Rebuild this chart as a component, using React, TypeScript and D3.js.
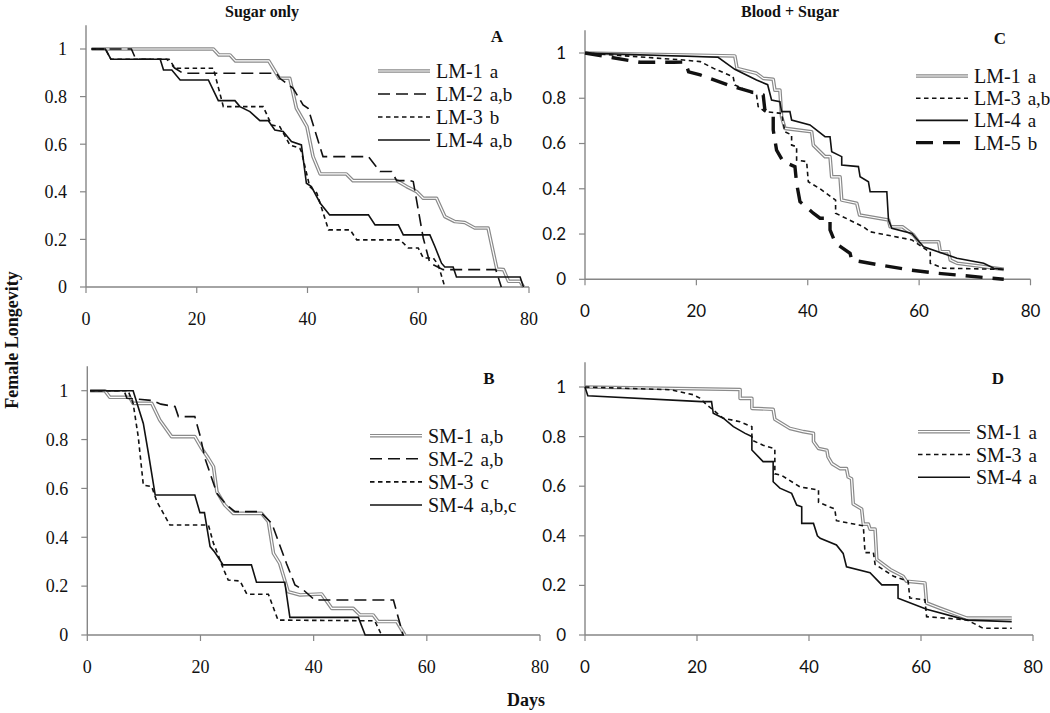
import React from 'react';
import * as d3 from 'd3';

type Pt = [number, number];

const X_TICKS = [0, 20, 40, 60, 80];
const Y_TICKS = [0, 0.2, 0.4, 0.6, 0.8, 1];
const Y_TICK_LABELS = ['0', '0.2', '0.4', '0.6', '0.8', '1'];

// Panel A: Sugar only, LM lines
const A_LM1: Pt[] = [[1,1],[23,1],[24,0.975],[26,0.975],[27,0.95],[33,0.95],[34.9,0.877],[36.8,0.877],[38,0.751],[39.9,0.674],[41,0.548],[42.3,0.475],[47,0.475],[48.2,0.447],[56.1,0.447],[57.9,0.422],[59.7,0.401],[60.9,0.373],[63.3,0.373],[64.8,0.296],[66.6,0.275],[68.4,0.271],[70.2,0.248],[72.6,0.248],[74.2,0.075],[75.4,0.073],[76.3,0.024],[78.4,0.024],[79,0]];
const A_LM2: Pt[] = [[1,1],[8.2,1],[9,0.957],[14.6,0.957],[16,0.92],[17.5,0.898],[34.4,0.898],[35,0.877],[37.4,0.835],[39.2,0.765],[40.1,0.751],[42.8,0.548],[51,0.548],[53.1,0.485],[55.2,0.485],[56.1,0.447],[58.5,0.447],[59.1,0.443],[60.9,0.206],[62.1,0.1],[64.5,0.073],[74,0.073],[75,0]];
const A_LM3: Pt[] = [[1,1],[3.5,1],[4.5,0.957],[15,0.957],[16.1,0.919],[23,0.919],[24.8,0.758],[32,0.758],[33.5,0.681],[35,0.674],[36.8,0.597],[38.6,0.583],[38.9,0.569],[40.4,0.422],[41.7,0.394],[43.8,0.24],[47.7,0.24],[48.9,0.198],[56.7,0.198],[58.2,0.164],[60,0.164],[60.9,0.122],[62.7,0.122],[63.6,0.094],[64.8,0]];
const A_LM4: Pt[] = [[1,1],[3.5,1],[4.5,0.957],[13.4,0.957],[14,0.912],[15.5,0.912],[17,0.87],[22.1,0.87],[23.9,0.783],[26.9,0.783],[27.8,0.758],[29.6,0.737],[31.4,0.699],[32.9,0.699],[34.1,0.66],[35.6,0.653],[37.1,0.611],[38.9,0.597],[39.8,0.436],[40.7,0.422],[42.3,0.352],[44,0.303],[51,0.303],[52.2,0.261],[56.4,0.261],[57.3,0.219],[62.1,0.219],[63,0.17],[64.2,0.1],[64.8,0.084],[66.3,0.084],[66.9,0.042],[78.4,0.042],[79,0]];

// Panel B: Sugar only, SM lines
const B_SM1: Pt[] = [[0.5,1],[3.1,1],[4,0.973],[7.5,0.973],[8.1,0.948],[11.4,0.948],[12.8,0.88],[14.9,0.812],[19,0.812],[20.2,0.764],[21.4,0.723],[22.3,0.689],[22.9,0.587],[24.3,0.532],[25.8,0.498],[30.8,0.498],[32,0.464],[32.9,0.334],[34,0.293],[35.5,0.177],[37.6,0.164],[41.4,0.168],[43.2,0.109],[47,0.109],[48.2,0.082],[50.5,0.082],[51.4,0.055],[54.7,0.055],[56.1,0]];
const B_SM2: Pt[] = [[0.5,1],[6.5,1],[7,0.969],[11.4,0.96],[13,0.945],[15.5,0.935],[16.1,0.894],[19,0.894],[19.9,0.819],[20.8,0.723],[22.9,0.58],[24.6,0.532],[26.1,0.505],[30.5,0.505],[32.6,0.457],[35.2,0.293],[36.7,0.205],[38.2,0.184],[40.2,0.143],[54.1,0.143],[55.8,0]];
const B_SM3: Pt[] = [[0.5,1],[7.2,1],[8.1,0.948],[9,0.812],[9.9,0.614],[11.4,0.607],[12.3,0.546],[14.6,0.45],[21.4,0.45],[22.3,0.375],[22.9,0.341],[24,0.273],[24.9,0.225],[27,0.221],[28.2,0.167],[32,0.167],[33.7,0.061],[50.8,0.058],[52,0]];
const B_SM4: Pt[] = [[0.5,1],[8.1,1],[9.9,0.866],[10.8,0.744],[12,0.573],[19,0.573],[19.9,0.501],[20.7,0.501],[21.7,0.362],[22.5,0.34],[24,0.287],[29,0.287],[29.9,0.216],[34.9,0.216],[35.8,0.072],[47.9,0.072],[49.1,0],[56,0]];

// Panel C: Blood + Sugar, LM lines
const C_LM1: Pt[] = [[0,1],[26.9,0.987],[27.3,0.932],[30.8,0.91],[32,0.888],[33.8,0.884],[34.1,0.836],[35,0.836],[35.3,0.718],[35.9,0.667],[40.7,0.652],[41,0.593],[43.1,0.542],[44,0.542],[44.3,0.453],[45.8,0.453],[46.1,0.35],[48.8,0.336],[49.3,0.284],[54.5,0.262],[54.8,0.232],[57,0.232],[59,0.196],[59.9,0.166],[63.5,0.166],[63.8,0.122],[65.3,0.122],[65.6,0.085],[66.8,0.071],[71.6,0.056],[75.2,0.044]];
const C_LM3: Pt[] = [[0,1],[17.7,0.969],[20.7,0.962],[23.1,0.932],[26.6,0.895],[26.9,0.859],[30.8,0.814],[31.1,0.763],[32.3,0.741],[35.3,0.733],[35.9,0.652],[37.1,0.638],[37.1,0.593],[38,0.586],[38,0.527],[39.8,0.52],[40.1,0.431],[42.2,0.4],[45,0.35],[45,0.292],[50,0.232],[51.2,0.21],[58.7,0.174],[61.4,0.129],[62,0.122],[62,0.071],[64.4,0.049],[75.2,0.044]];
const C_LM4: Pt[] = [[0,1],[23.9,0.981],[26.9,0.928],[30.8,0.881],[32.8,0.86],[33.5,0.792],[35,0.785],[35.3,0.741],[36.8,0.741],[37.1,0.704],[40.4,0.682],[43.1,0.63],[44,0.63],[44.3,0.564],[46.1,0.542],[46.1,0.505],[49.1,0.498],[49.4,0.453],[50.9,0.431],[51.2,0.387],[54.2,0.387],[54.5,0.262],[55.1,0.225],[58.7,0.203],[60.8,0.144],[66.8,0.093],[71.6,0.071],[73.4,0.049],[75.2,0.044]];
const C_LM5: Pt[] = [[0,1],[9.9,0.959],[15.9,0.959],[18,0.96],[18.6,0.917],[20.7,0.903],[26.6,0.851],[32,0.814],[32.3,0.748],[33.8,0.726],[33.8,0.66],[34.4,0.571],[35.6,0.52],[37.7,0.498],[38,0.424],[38.6,0.343],[41,0.292],[42.2,0.27],[44,0.27],[44,0.218],[45,0.159],[47.6,0.115],[47.9,0.085],[53,0.063],[58.4,0.041],[63.2,0.027],[75.2,0]];

// Panel D: Blood + Sugar, SM lines
const D_SM1: Pt[] = [[0,1],[27.7,0.99],[27.7,0.954],[29.8,0.954],[29.8,0.914],[33.6,0.91],[33.9,0.87],[36.6,0.833],[39,0.82],[40.8,0.813],[40.8,0.78],[41.7,0.752],[43.2,0.745],[43.4,0.718],[44.1,0.691],[45.5,0.671],[46.7,0.671],[47,0.637],[47.6,0.63],[47.9,0.528],[49.4,0.508],[49.7,0.447],[50.6,0.447],[50.9,0.427],[51.8,0.427],[52.1,0.305],[54.5,0.264],[56.8,0.237],[57.4,0.217],[60.7,0.21],[61,0.129],[63.4,0.108],[68.2,0.068],[76.2,0.068]];
const D_SM3: Pt[] = [[0,1],[15.2,0.989],[19.3,0.969],[20.5,0.955],[21.7,0.929],[24.7,0.874],[27.7,0.86],[29.8,0.84],[29.8,0.786],[31.8,0.765],[33.9,0.751],[33.9,0.65],[35.1,0.644],[38.4,0.597],[41.7,0.585],[41.7,0.535],[44.6,0.508],[44.9,0.461],[49.7,0.44],[50,0.332],[51.5,0.332],[51.8,0.285],[55.1,0.237],[57.7,0.217],[58,0.149],[60.7,0.142],[61,0.074],[68.2,0.061],[71.1,0.027],[76.2,0.027]];
const D_SM4: Pt[] = [[0,1],[0.5,0.965],[20.8,0.941],[22.6,0.941],[22.9,0.894],[24.7,0.874],[26.5,0.84],[28.6,0.813],[29.8,0.8],[29.8,0.746],[31.8,0.699],[33.6,0.699],[33.6,0.618],[34.8,0.592],[36.9,0.571],[37.8,0.524],[38.7,0.517],[38.7,0.45],[40.8,0.45],[41.5,0.4],[42,0.39],[44.9,0.363],[46.1,0.329],[46.7,0.275],[50.9,0.251],[53,0.202],[55.9,0.202],[55.9,0.148],[61,0.104],[68.2,0.06],[76.2,0.054]];

type Kind = 'double' | 'long' | 'short' | 'solid' | 'thick';
interface Series { name: string; tag: string; kind: Kind; data: Pt[] }
interface Panel {
  letter: string;
  x0: number; x1: number; yTop: number; yBot: number;
  tickFont: string; tickSize: number;
  series: Series[];
  legX: number; legY: number; legDy: number;
  letterX: number; letterY: number;
}

const SERIF = '"Liberation Serif", "Times New Roman", serif';
const SANS = 'Lato, "Open Sans", sans-serif';
const AXIS = '#868686';

const PANELS: Panel[] = [
  { letter: 'A', x0: 86, x1: 529, yTop: 49, yBot: 287, tickFont: SERIF, tickSize: 18,
    series: [
      { name: 'LM-1', tag: 'a', kind: 'double', data: A_LM1 },
      { name: 'LM-2', tag: 'a,b', kind: 'long', data: A_LM2 },
      { name: 'LM-3', tag: 'b', kind: 'short', data: A_LM3 },
      { name: 'LM-4', tag: 'a,b', kind: 'solid', data: A_LM4 },
    ], legX: 378, legY: 71, legDy: 23, letterX: 497, letterY: 42 },
  { letter: 'B', x0: 87.3, x1: 540, yTop: 390.7, yBot: 635, tickFont: SERIF, tickSize: 18,
    series: [
      { name: 'SM-1', tag: 'a,b', kind: 'double', data: B_SM1 },
      { name: 'SM-2', tag: 'a,b', kind: 'long', data: B_SM2 },
      { name: 'SM-3', tag: 'c', kind: 'short', data: B_SM3 },
      { name: 'SM-4', tag: 'a,b,c', kind: 'solid', data: B_SM4 },
    ], legX: 370, legY: 435.7, legDy: 23.1, letterX: 489, letterY: 384 },
  { letter: 'C', x0: 585, x1: 1030.5, yTop: 53, yBot: 279.3, tickFont: SANS, tickSize: 17,
    series: [
      { name: 'LM-1', tag: 'a', kind: 'double', data: C_LM1 },
      { name: 'LM-3', tag: 'a,b', kind: 'short', data: C_LM3 },
      { name: 'LM-4', tag: 'a', kind: 'solid', data: C_LM4 },
      { name: 'LM-5', tag: 'b', kind: 'thick', data: C_LM5 },
    ], legX: 916, legY: 76, legDy: 22.2, letterX: 1000, letterY: 44 },
  { letter: 'D', x0: 585, x1: 1033, yTop: 387, yBot: 635, tickFont: SANS, tickSize: 17,
    series: [
      { name: 'SM-1', tag: 'a', kind: 'double', data: D_SM1 },
      { name: 'SM-3', tag: 'a', kind: 'short', data: D_SM3 },
      { name: 'SM-4', tag: 'a', kind: 'solid', data: D_SM4 },
    ], legX: 918, legY: 431.7, legDy: 22.8, letterX: 998, letterY: 384 },
];

function styled(kind: Kind, d: string, key: string) {
  switch (kind) {
    case 'double':
      return (
        <g key={key}>
          <path d={d} fill="none" stroke="#8a8a8a" strokeWidth={3.6} strokeLinejoin="round" />
          <path d={d} fill="none" stroke="#ffffff" strokeWidth={1.2} strokeLinejoin="round" />
        </g>
      );
    case 'long':
      return <path key={key} d={d} fill="none" stroke="#111" strokeWidth={1.6} strokeDasharray="12,6" />;
    case 'short':
      return <path key={key} d={d} fill="none" stroke="#111" strokeWidth={1.6} strokeDasharray="4.5,3.5" />;
    case 'thick':
      return <path key={key} d={d} fill="none" stroke="#111" strokeWidth={3.4} strokeDasharray="17,10" />;
    default:
      return <path key={key} d={d} fill="none" stroke="#111" strokeWidth={1.6} />;
  }
}

function PanelView({ p }: { p: Panel }) {
  const xs = d3.scaleLinear().domain([0, 80]).range([p.x0, p.x1]);
  const ys = d3.scaleLinear().domain([0, 1]).range([p.yBot, p.yTop]);
  const line = d3.line<Pt>().x(d => xs(d[0])).y(d => ys(d[1]));
  const legLine = d3.line<Pt>().x(d => d[0]).y(d => d[1]);
  return (
    <g>
      <line x1={xs(0)} x2={xs(0)} y1={ys(1.1)} y2={ys(0)} stroke={AXIS} strokeWidth={1.4} />
      <line x1={xs(0)} x2={xs(80)} y1={ys(0)} y2={ys(0)} stroke={AXIS} strokeWidth={1.4} />
      {Y_TICKS.map((t, i) => (
        <g key={'y' + i}>
          <line x1={xs(0) - 6} x2={xs(0)} y1={ys(t)} y2={ys(t)} stroke={AXIS} strokeWidth={1.2} />
          <text x={xs(0) - 19} y={ys(t)} dy="0.35em" textAnchor="end" fontFamily={p.tickFont} fontSize={p.tickSize} fill="#111">{Y_TICK_LABELS[i]}</text>
        </g>
      ))}
      {X_TICKS.map((t, i) => (
        <g key={'x' + i}>
          <line x1={xs(t)} x2={xs(t)} y1={ys(0)} y2={ys(0) + 6} stroke={AXIS} strokeWidth={1.2} />
          <text x={xs(t)} y={ys(0) + 38} textAnchor="middle" fontFamily={p.tickFont} fontSize={p.tickSize} fill="#111">{t}</text>
        </g>
      ))}
      {p.series.map((s, i) => styled(s.kind, line(s.data) || '', 's' + i))}
      {p.series.map((s, i) => {
        const y = p.legY + i * p.legDy;
        const d = legLine([[p.legX, y], [p.legX + 52, y]]) || '';
        return (
          <g key={'l' + i}>
            {styled(s.kind, d, 'lp' + i)}
            <text x={p.legX + 58} y={y + 7} fontFamily={SERIF} fontSize={20} fill="#111">
              {s.name}
              <tspan dx={7} fontSize={19}>{s.tag}</tspan>
            </text>
          </g>
        );
      })}
      <text x={p.letterX} y={p.letterY} textAnchor="middle" fontFamily={SERIF} fontWeight="bold" fontSize={17} fill="#111">{p.letter}</text>
    </g>
  );
}

export default function App() {
  return (
    <svg width={1050} height={713} style={{ display: 'block', position: 'absolute', left: 0, top: 0, background: '#fff' }}>
      <rect x={0} y={0} width={1050} height={713} fill="#fff" />
      <text x={262} y={17} textAnchor="middle" fontFamily={SERIF} fontWeight="bold" fontSize={16} fill="#111">Sugar only</text>
      <text x={790} y={17} textAnchor="middle" fontFamily={SERIF} fontWeight="bold" fontSize={16} fill="#111">Blood + Sugar</text>
      <text transform="translate(18,340) rotate(-90)" textAnchor="middle" fontFamily={SERIF} fontWeight="bold" fontSize={18} fill="#111">Female Longevity</text>
      <text x={526} y={706} textAnchor="middle" fontFamily={SERIF} fontWeight="bold" fontSize={18} fill="#111">Days</text>
      {PANELS.map(p => <PanelView key={p.letter} p={p} />)}
    </svg>
  );
}
